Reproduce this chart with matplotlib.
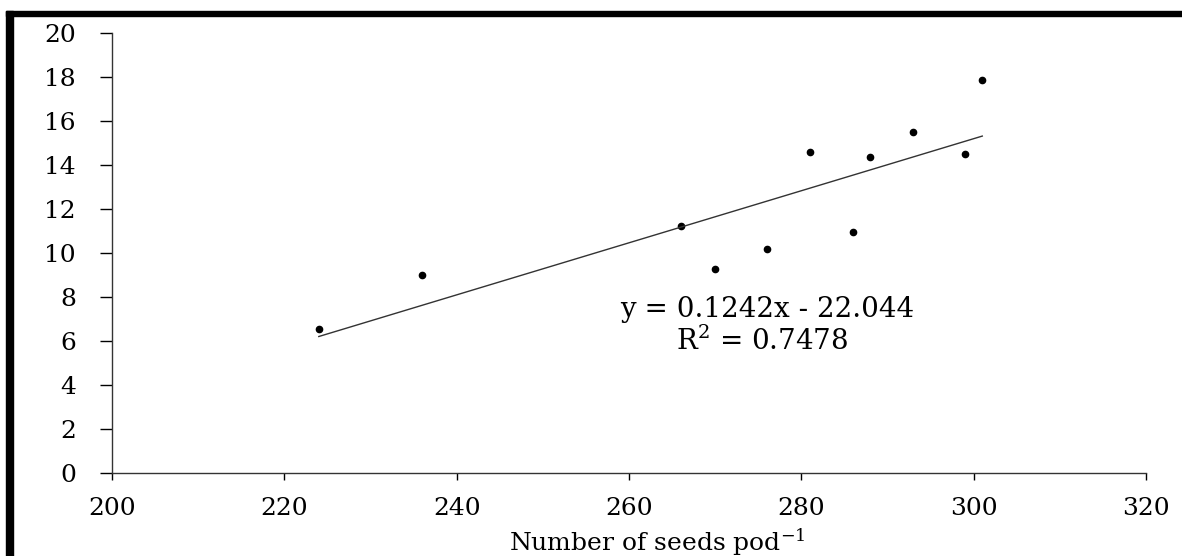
import numpy as np
import matplotlib
matplotlib.use("Agg")
import matplotlib.pyplot as plt
from matplotlib.patches import Rectangle

# datos leidos da figura
seeds = [224, 236, 266, 270, 276, 281, 286, 288, 293, 299, 301]
valores = [6.56, 8.99, 11.23, 9.29, 10.17, 14.58, 10.95, 14.38, 15.5, 14.5, 17.88]
xticks = [200, 220, 240, 260, 280, 300, 320]
yticks = [0, 2, 4, 6, 8, 10, 12, 14, 16, 18, 20]

plt.rcParams['font.family'] = ['DejaVu Serif']
plt.rcParams['mathtext.fontset'] = 'dejavuserif'

W, H = 1182, 556
fig = plt.figure(figsize=(W / 100, H / 100), dpi=100)
ax = fig.add_axes([112 / W, 1 - 473 / H, (1146 - 112) / W, (473 - 33) / H])

ax.plot(seeds, valores, 'o', color='black', markersize=4.5)

# linha de tendencia
a, b = np.polyfit(seeds, valores, 1)
xs = np.array([min(seeds), max(seeds)])
ax.plot(xs, a * xs + b, color='#333333', lw=1)

ax.text(276, 7.45, "y = 0.1242x - 22.044", ha='center', va='center', fontsize=20)
ax.text(275.5, 6.0, "R$^2$ = 0.7478", ha='center', va='center', fontsize=20)

ax.set_xlim(200, 320)
ax.set_ylim(0, 20)
ax.set_xticks(xticks)
ax.set_yticks(yticks)
ax.tick_params(axis='y', direction='out', length=9, width=1, labelsize=18, pad=17)
ax.tick_params(axis='x', direction='out', length=5, width=1, labelsize=18, pad=12)
for s in ['top', 'right']:
    ax.spines[s].set_visible(False)
for s in ['left', 'bottom']:
    ax.spines[s].set_color('#333333')
    ax.spines[s].set_linewidth(1)
ax.set_xlabel("Number of seeds pod$^{-1}$", fontsize=18)
ax.xaxis.set_label_coords((657 - 112) / 1034, -(526 - 473) / 440)

# moldura preta (so topo e esquerda)
fig.patches.append(Rectangle((6 / W, 0), 7 / W, 1 - 11 / H, transform=fig.transFigure,
                             color='black', zorder=10))
fig.patches.append(Rectangle((6 / W, 1 - 16 / H), 1 - 6 / W, 5 / H, transform=fig.transFigure,
                             color='black', zorder=10))

fig.savefig("out.png", dpi=100)
